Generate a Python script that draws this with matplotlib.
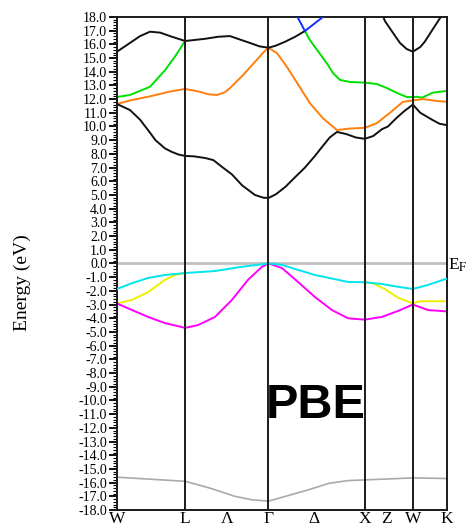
import numpy as np
import matplotlib
matplotlib.use("Agg")
import matplotlib.pyplot as plt
from matplotlib.ticker import MultipleLocator, FormatStrFormatter
from matplotlib.transforms import blended_transform_factory

plt.rcParams["font.family"] = ["Liberation Serif", "DejaVu Serif"]
plt.rcParams["mathtext.fontset"] = "stix"
plt.rcParams["axes.unicode_minus"] = False

# high-symmetry points along the path (k-distance, 2pi/a units)
sym_k = [0.0, 0.707, 1.573, 2.573, 3.073, 3.427]
tick_k = [0.0, 0.707, 1.14, 1.573, 2.046, 2.573, 2.80, 3.073, 3.427]
tick_labels = ["W", "L", "Λ", "Γ", "Δ", "X", "Z", "W", "K"]

# conduction bands
k_c1 = [0, 0.135, 0.239, 0.322, 0.40, 0.498, 0.571, 0.64, 0.707, 0.80, 0.914, 1.0, 1.1, 1.194, 1.30,
        1.433, 1.52, 1.573, 1.65, 1.75, 1.85, 1.952, 2.05, 2.129, 2.21, 2.285, 2.38, 2.48, 2.573,
        2.66, 2.752, 2.814, 2.9, 2.98, 3.073, 3.15, 3.271, 3.35, 3.427]
e_c1 = [11.64, 11.2, 10.5, 9.74, 9.0, 8.4, 8.14, 7.95, 7.85, 7.82, 7.7, 7.55, 7.0, 6.5, 5.7,
        5.0, 4.8, 4.78, 5.05, 5.6, 6.3, 7.0, 7.8, 8.5, 9.2, 9.6, 9.45, 9.2, 9.1,
        9.3, 9.8, 10.0, 10.6, 11.1, 11.6, 11.0, 10.5, 10.2, 10.1]

k_c2 = [0, 0.135, 0.343, 0.55, 0.707, 0.85, 0.95, 1.04, 1.12, 1.173, 1.31, 1.45, 1.52, 1.573,
        1.661, 1.765, 1.869, 2.004, 2.139, 2.285, 2.42, 2.573, 2.70, 2.835, 2.97, 3.073,
        3.178, 3.323, 3.427]
e_c2 = [11.64, 11.9, 12.2, 12.55, 12.74, 12.55, 12.35, 12.3, 12.5, 12.8, 13.76, 14.85, 15.4, 15.75,
        15.36, 14.35, 13.2, 11.7, 10.6, 9.74, 9.85, 9.9, 10.25, 11.0, 11.8, 11.9,
        12.0, 11.86, 11.8]

k_c3a = [0, 0.135, 0.343, 0.498, 0.602, 0.707]
e_c3a = [12.15, 12.3, 12.9, 14.1, 15.1, 16.24]
k_c3b = [1.952, 2.004, 2.077, 2.181, 2.243, 2.316, 2.42, 2.573, 2.70, 2.804, 2.908, 3.01, 3.073,
         3.115, 3.167, 3.28, 3.427]
e_c3b = [16.97, 16.3, 15.6, 14.6, 13.9, 13.4, 13.25, 13.2, 13.1, 12.8, 12.45, 12.15, 12.15,
         12.17, 12.1, 12.47, 12.6]

k_c4 = [0, 0.135, 0.24, 0.343, 0.45, 0.55, 0.707, 0.914, 1.05, 1.173, 1.38, 1.48, 1.573,
        1.65, 1.75, 1.85, 1.952]
e_c4 = [15.46, 16.1, 16.6, 16.92, 16.85, 16.6, 16.24, 16.4, 16.55, 16.6, 16.1, 15.85, 15.75,
        15.9, 16.2, 16.55, 16.97]

k_c5 = [2.76, 2.783, 2.87, 2.939, 3.01, 3.073, 3.15, 3.198, 3.28, 3.354, 3.427]
e_c5 = [18.1, 17.7, 16.8, 16.1, 15.65, 15.46, 15.8, 16.2, 17.1, 17.9, 18.6]

k_blue = [1.87, 1.952, 2.14]
e_blue = [18.05, 16.97, 18.0]

# valence bands
k_v1 = [0, 0.156, 0.322, 0.498, 0.602, 0.707, 1.018, 1.298, 1.464, 1.573,
        1.713, 1.88, 2.056, 2.233, 2.40, 2.573, 2.752, 2.918, 3.073, 3.23, 3.406, 3.427]
e_v1 = [-1.86, -1.44, -1.06, -0.84, -0.77, -0.7, -0.55, -0.24, -0.1, 0.0,
        -0.1, -0.47, -0.84, -1.1, -1.35, -1.37, -1.5, -1.7, -1.86, -1.57, -1.15, -1.12]

k_v2a = [0, 0.156, 0.322, 0.498, 0.602, 0.707]
e_v2a = [-2.92, -2.66, -2.1, -1.2, -0.84, -0.7]
k_v2b = [2.573, 2.66, 2.79, 2.918, 3.073, 3.14, 3.427]
e_v2b = [-1.37, -1.45, -1.9, -2.5, -2.92, -2.76, -2.76]

k_v3 = [0, 0.156, 0.322, 0.498, 0.707, 0.841, 1.018, 1.194, 1.36, 1.506, 1.573,
        1.713, 1.88, 2.056, 2.233, 2.40, 2.573, 2.752, 2.918, 3.073, 3.23, 3.427]
e_v3 = [-2.92, -3.4, -3.9, -4.35, -4.7, -4.5, -3.9, -2.66, -1.2, -0.24, 0.0,
        -0.33, -1.35, -2.45, -3.4, -4.0, -4.1, -3.9, -3.47, -3.0, -3.4, -3.5]

k_s = [0, 0.35, 0.707, 0.966, 1.225, 1.4, 1.573, 1.80, 2.0, 2.20, 2.40, 2.573, 2.85, 3.073, 3.427]
e_s = [-15.6, -15.75, -15.9, -16.4, -17.0, -17.25, -17.35, -16.9, -16.5, -16.05, -15.85, -15.8,
       -15.72, -15.65, -15.7]

fig = plt.figure(figsize=(4.68, 5.28), dpi=100)
ax = fig.add_axes([0.25, 0.034, 0.705, 0.934])

ax.axhline(0, color="#c0c0c0", lw=2.0, zorder=1)
for k in sym_k[1:-1]:
    ax.axvline(k, color="#1a1a1a", lw=1.4, zorder=4)

lw = 1.4
ax.plot(k_s, e_s, color="#aaaaaa", lw=1.2, zorder=2)
ax.plot(k_v2a, e_v2a, color="#eeee00", lw=lw, zorder=2)
ax.plot(k_v2b, e_v2b, color="#eeee00", lw=lw, zorder=2)
ax.plot(k_v3, e_v3, color="#ff00ff", lw=lw, zorder=2)
ax.plot(k_v1, e_v1, color="#00e5ee", lw=lw, zorder=3)
ax.plot(k_c3a, e_c3a, color="#00e000", lw=lw, zorder=2)
ax.plot(k_c3b, e_c3b, color="#00e000", lw=lw, zorder=2)
ax.plot(k_c2, e_c2, color="#ff7f0e", lw=lw, zorder=2)
ax.plot(k_c1, e_c1, color="#111111", lw=lw, zorder=3)
ax.plot(k_c4, e_c4, color="#111111", lw=lw, zorder=3)
ax.plot(k_c5, e_c5, color="#111111", lw=lw, zorder=3)
ax.plot(k_blue, e_blue, color="#1030ff", lw=lw, zorder=3)

ax.set_xlim(sym_k[0], sym_k[-1])
ax.set_ylim(-18, 18)
ax.yaxis.set_major_locator(MultipleLocator(1.0))
ax.yaxis.set_minor_locator(MultipleLocator(0.2))
ax.yaxis.set_major_formatter(FormatStrFormatter("%.1f"))
ax.tick_params(axis="y", which="major", direction="out", length=6, width=1.3, labelsize=10, pad=1)
ax.tick_params(axis="y", which="minor", direction="out", length=3, width=0.8)
ax.set_xticks(tick_k)
ax.set_xticklabels(tick_labels)
ax.tick_params(axis="x", length=0, labelsize=12.5, pad=1)
for s in ax.spines.values():
    s.set_linewidth(1.4)
    s.set_color("#1a1a1a")

fig.text(0.047, 1 - 283 / 528, "Energy (eV)", rotation=90, ha="center", va="center", fontsize=14)

trans = blended_transform_factory(ax.transAxes, ax.transData)
ax.text(1.003, -0.1, "E$_\\mathrm{F}$", transform=trans, ha="left", va="center", fontsize=12.5, clip_on=False)

fig.text(0.675, 1 - 406 / 528, "PBE", ha="center", va="center", fontsize=35, fontweight="bold",
         family=["Liberation Sans", "DejaVu Sans"])

fig.savefig("out.png", dpi=100)
